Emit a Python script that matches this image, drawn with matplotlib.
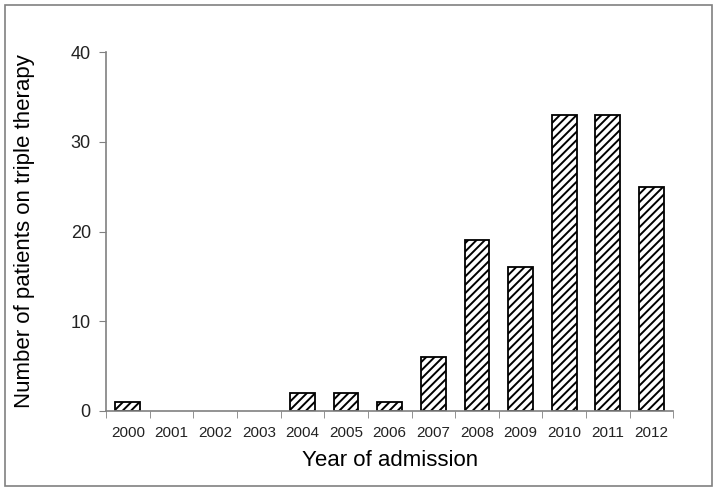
import matplotlib
matplotlib.use("Agg")
import matplotlib.pyplot as plt
import numpy as np
from matplotlib.patches import Rectangle

plt.rcParams['font.family'] = ['Liberation Sans', 'DejaVu Sans']
plt.rcParams['hatch.linewidth'] = 1.4

years = ['2000', '2001', '2002', '2003', '2004', '2005', '2006',
         '2007', '2008', '2009', '2010', '2011', '2012']
patients = [1, 0, 0, 0, 2, 2, 1, 6, 19, 16, 33, 33, 25]

fig = plt.figure(figsize=(7.17, 4.91), dpi=100)
ax = fig.add_axes([0.148, 0.163, 0.791, 0.731])

# grey frame around the whole figure
fig.patches.append(Rectangle((0.007, 0.01), 0.986, 0.98, transform=fig.transFigure,
                             fill=False, edgecolor='#808080', linewidth=1.2))

x = np.arange(len(years))
bars = ax.bar(x, patients, width=0.57, color='white', edgecolor='black',
              hatch='////', linewidth=1.3)
# empty years show no bar at all
for b, v in zip(bars, patients):
    if v == 0:
        b.set_visible(False)

ax.set_xlim(-0.5, len(years) - 0.5)
ax.set_ylim(0, 40)
ax.set_yticks([0, 10, 20, 30, 40])

# category ticks sit between the bars
ax.set_xticks(x)
ax.set_xticklabels(years, fontsize=11, color='#222222')
ax.set_xticks(np.arange(-0.5, len(years)), minor=True)
ax.tick_params(axis='x', which='major', length=0, pad=11)
ax.tick_params(axis='x', which='minor', length=5, color='#808080', direction='out')
ax.tick_params(axis='y', length=5, color='#808080', direction='out', labelsize=13,
               labelcolor='#222222', pad=6)

for side in ['top', 'right']:
    ax.spines[side].set_visible(False)
for side in ['left', 'bottom']:
    ax.spines[side].set_color('#808080')
    ax.spines[side].set_linewidth(1.2)

ax.set_xlabel('Year of admission', fontsize=16, labelpad=7)
ax.set_ylabel('Number of patients on triple therapy', fontsize=16, labelpad=26)

fig.savefig('out.png', dpi=100)
